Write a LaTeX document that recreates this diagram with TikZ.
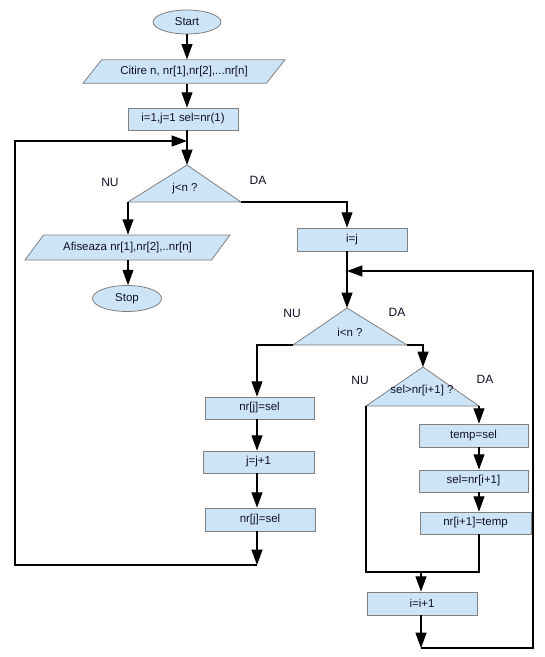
\documentclass[tikz,border=0pt]{standalone}
\usepackage{fontspec}
\setmainfont{Liberation Sans}
\usetikzlibrary{shapes.geometric,arrows.meta}
\definecolor{boxfill}{RGB}{205,228,247}
\definecolor{boxline}{RGB}{128,128,128}
\definecolor{txtcol}{RGB}{15,15,40}
\begin{document}
\begin{tikzpicture}[x=0.75pt,y=-0.75pt,
  font=\fontsize{8.6}{10}\selectfont, text=txtcol,
  shp/.style={draw=boxline, fill=boxfill, line width=0.6pt, inner sep=0pt},
  box/.style={shp, rectangle, minimum width=82.5pt, minimum height=16.5pt},
  term/.style={shp, ellipse, minimum width=51pt, minimum height=18pt},
  io/.style={shp, trapezium, trapezium left angle=37, trapezium right angle=143, trapezium stretches=true, minimum height=17.5pt},
  tri/.style={draw=boxline, fill=boxfill, line width=0.6pt},
  lbl/.style={inner sep=0pt, font=\fontsize{9}{10}\selectfont},
  conn/.style={draw=black, line width=0.8pt},
  arr/.style={conn, -{Triangle[length=11.5pt,width=8.25pt]}}]
\useasboundingbox (0,0) rectangle (545,657);
\fill[white] (0,0) rectangle (545,657);
% helper columns
\coordinate (cL) at (257,0);
\coordinate (cJ) at (347,0);
\coordinate (cM) at (421,0);
\coordinate (cR) at (479,0);
% nodes
\node[term] (start) at (187,22) {Start};
\node[io, minimum width=151.5pt] (citire) at (184,71.5) {Citire n, nr[1],nr[2],...nr[n]};
\node[box] (init) at (183,119) {i=1,j=1 sel=nr(1)};
% triangle j<n
\coordinate (t1a) at (187,165);
\coordinate (t1l) at (128,202);
\coordinate (t1r) at (241,202);
\filldraw[tri] (t1a) -- (t1r) -- (t1l) -- cycle;
\node (t1) at (185,189) {j<n ?};
\node[lbl] (nu1) at (110,182) {NU};
\node[lbl] (da1) at (258,180) {DA};
\node[io, minimum width=153.75pt, minimum height=18.75pt] (afis) at (127.5,247.5) {Afiseaza nr[1],nr[2],..nr[n]};
\node[term, minimum width=51.75pt, minimum height=19.5pt] (stop) at (127,298.5) {Stop};
\node[box, minimum height=17.25pt] (ij) at (352,239.5) {i=j};
% triangle i<n
\coordinate (t2a) at (347,308);
\coordinate (t2l) at (293,345);
\coordinate (t2r) at (407,345);
\filldraw[tri] (t2a) -- (t2r) -- (t2l) -- cycle;
\node (t2) at (350,332) {i<n ?};
\node[lbl] (nu2) at (292,313) {NU};
\node[lbl] (da2) at (397,312) {DA};
% left column
\node[box, minimum width=81.75pt] (nrj1) at (259.5,408) {nr[j]=sel};
\node[box, minimum width=83.25pt] (jj) at (258.5,462) {j=j+1};
\node[box, minimum height=17.25pt] (nrj2) at (260,519.5) {nr[j]=sel};
% triangle sel>nr[i+1]
\coordinate (t3a) at (423,367);
\coordinate (t3l) at (366,406);
\coordinate (t3r) at (479,406);
\filldraw[tri] (t3a) -- (t3r) -- (t3l) -- cycle;
\node (t3) at (422,391) {sel>nr[i+1] ?};
\node[lbl] (nu3) at (360,380) {NU};
\node[lbl] (da3) at (485,379) {DA};
% right column
\node[box, minimum width=81.75pt, minimum height=17.25pt] (temp) at (473.5,435.5) {temp=sel};
\node[box, minimum width=81.75pt] (seln) at (473.5,481) {sel=nr[i+1]};
\node[box, minimum width=83.25pt] (nrt) at (475.5,523) {nr[i+1]=temp};
\node[box, minimum height=17.25pt] (iinc) at (422,603.5) {i=i+1};
% loop coordinates
\coordinate (tj) at (187,141);
\coordinate (lc) at (257,565);
\coordinate (ll) at (15,565);
\coordinate (lt) at (15,141);
\coordinate (jr) at (347,271);
\coordinate (rt) at (533,271);
\coordinate (rb) at (533,648);
\coordinate (bot) at (421,648);
\coordinate (jl2) at (366,572);
\coordinate (jr2) at (479,572);
\coordinate (jm) at (421,572);
% connectors
\draw[arr] (start.south) -- (start.south |- citire.north);
\draw[arr] (citire.south -| start.south) -- (init.north -| start.south);
\draw[arr] (init.south -| t1a) -- (t1a);
\draw[arr] (lc) -- (ll) -- (lt) -- (tj);
\draw[arr] (t1l) -- (t1l |- afis.north);
\draw[arr] (afis.south -| t1l) -- (stop.north -| t1l);
\draw[arr] (t1r) -| (ij.north -| cJ);
\draw[arr] (ij.south -| cJ) -- (t2a);
\draw[arr] (bot) -- (rb) -- (rt) -- (jr);
\draw[arr] (t2l) -| (nrj1.north -| cL);
\draw[arr] (nrj1.south -| cL) -- (jj.north -| cL);
\draw[arr] (jj.south -| cL) -- (nrj2.north -| cL);
\draw[arr] (nrj2.south -| cL) -- (lc);
\draw[arr] (t2r) -| (t3a);
\draw[arr] (t3r) -- (temp.north -| cR);
\draw[arr] (temp.south -| cR) -- (seln.north -| cR);
\draw[arr] (seln.south -| cR) -- (nrt.north -| cR);
\draw[conn] (nrt.south -| cR) -- (jr2) -- (jl2) -- (t3l);
\draw[arr] (jm) -- (iinc.north -| cM);
\draw[arr] (iinc.south -| cM) -- (bot);
\end{tikzpicture}
\end{document}
